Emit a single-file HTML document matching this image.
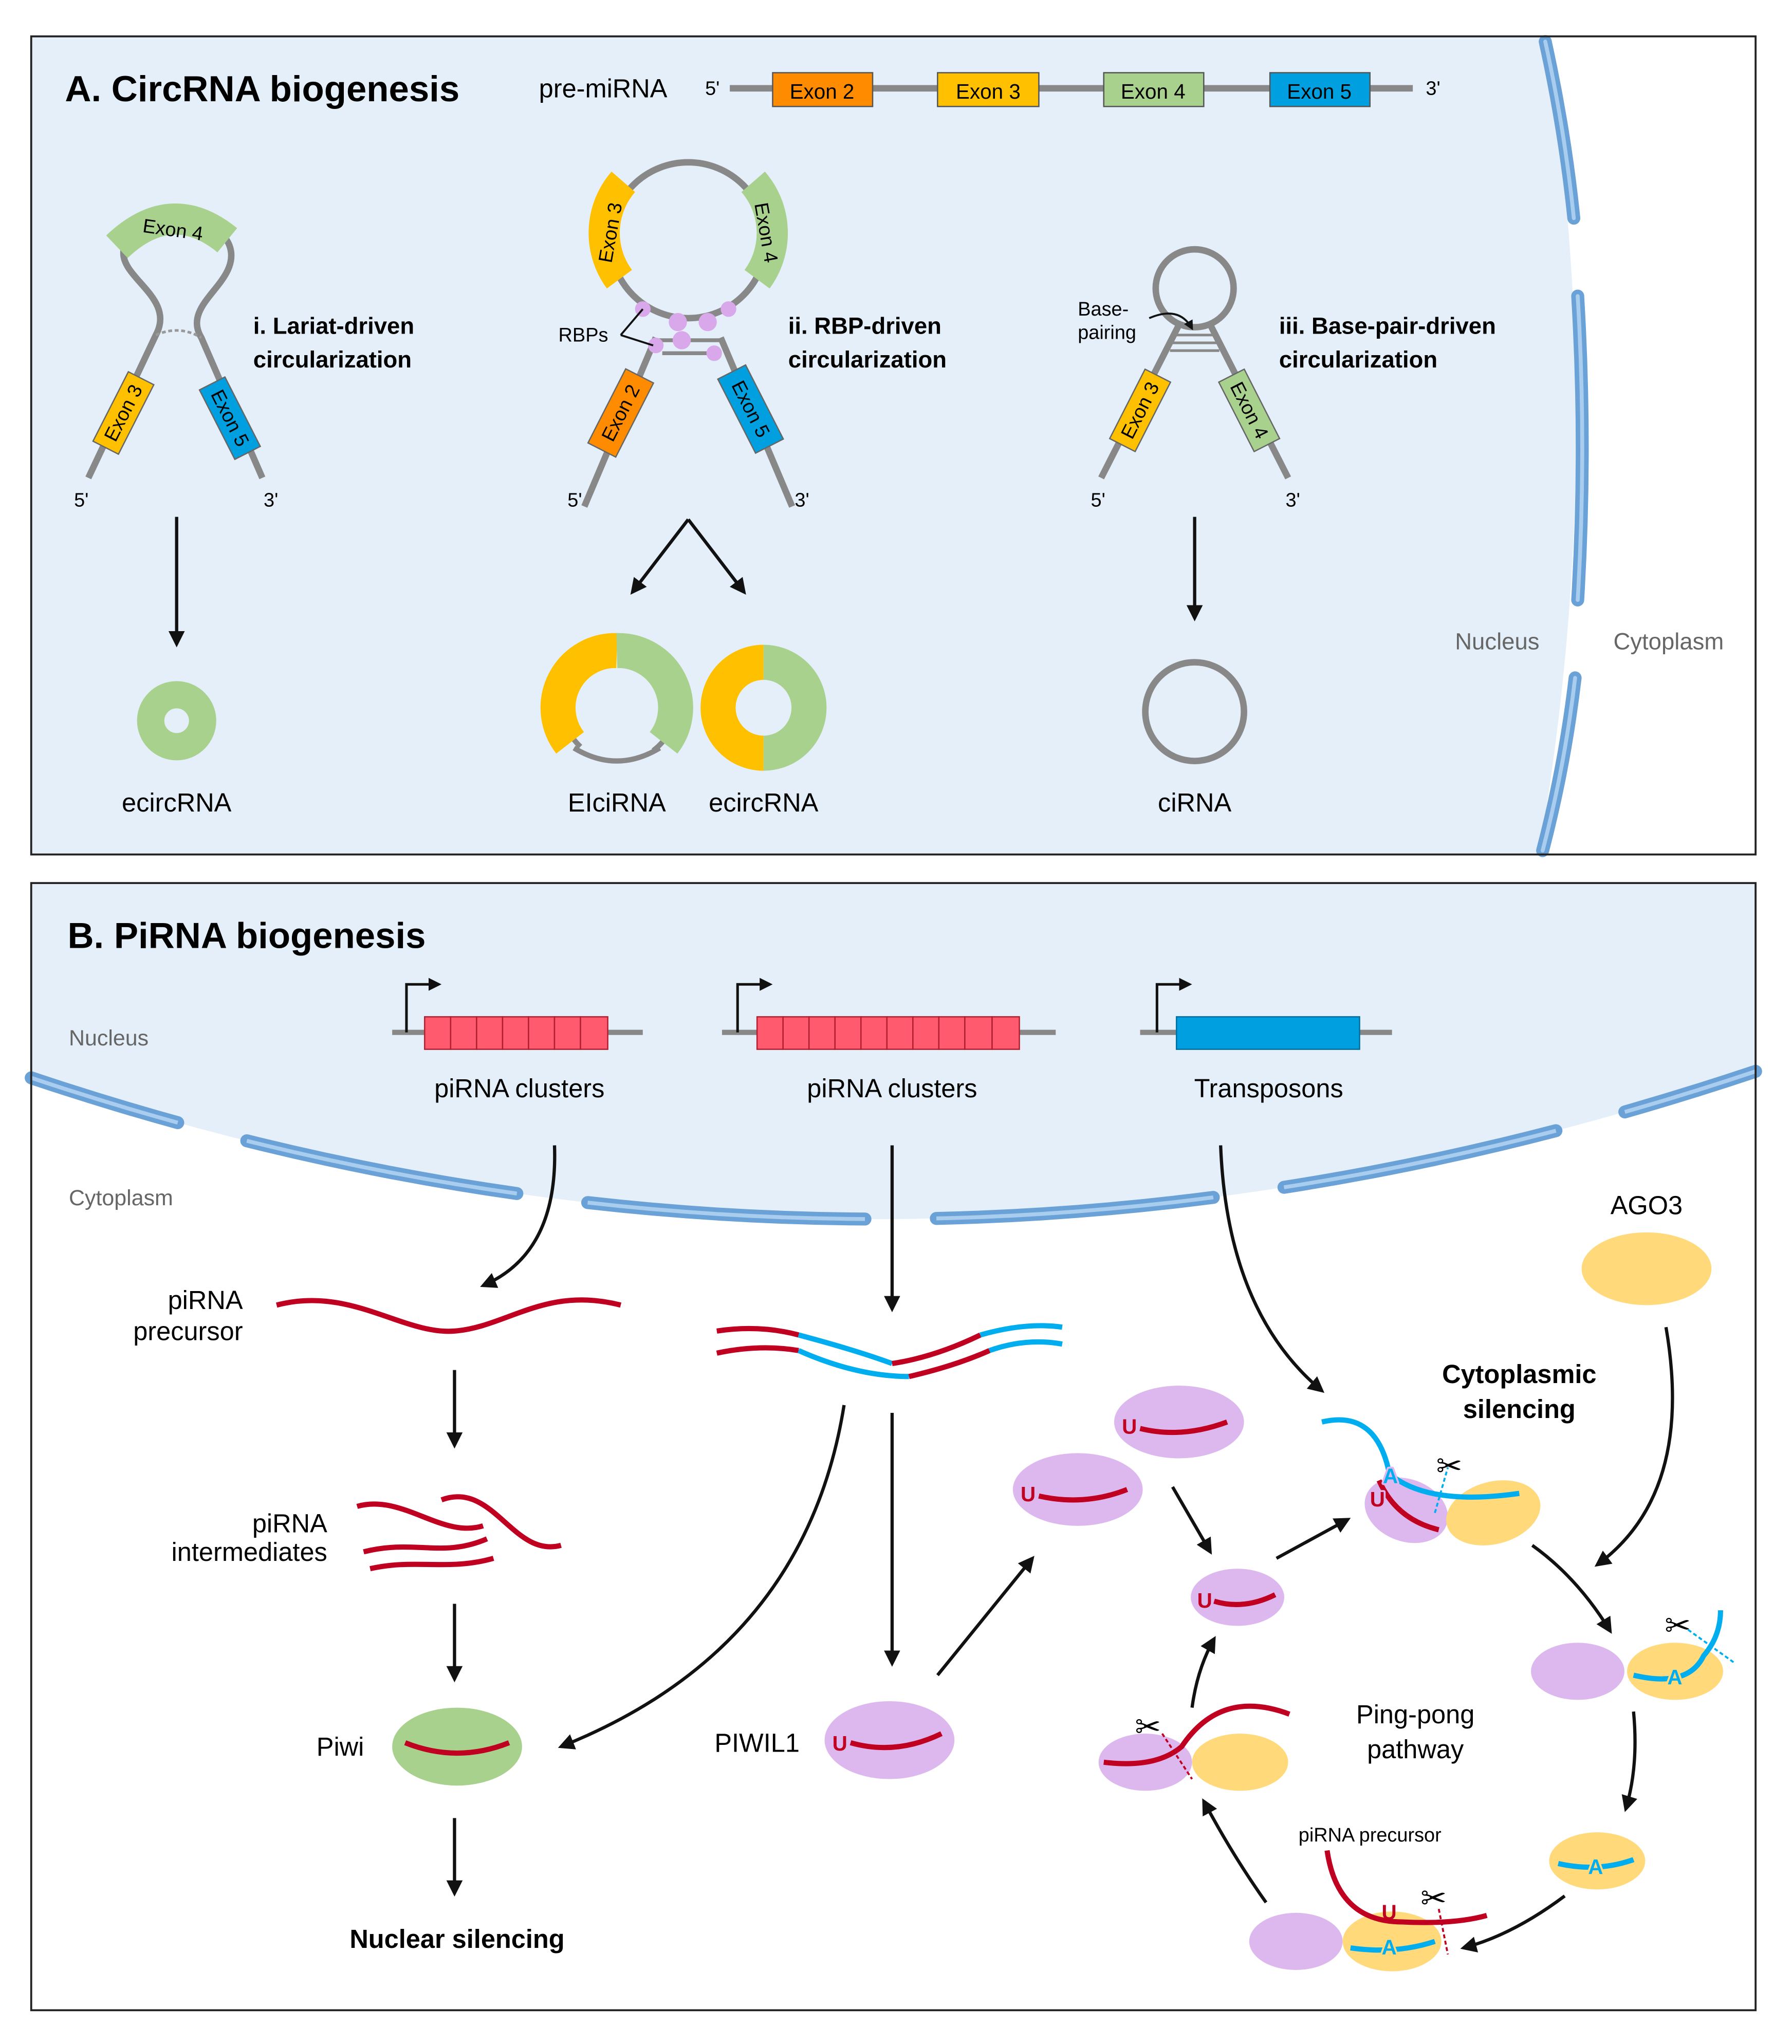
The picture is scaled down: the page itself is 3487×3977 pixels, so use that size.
<!DOCTYPE html>
<html><head><meta charset="utf-8"><style>html,body{margin:0;padding:0;background:#fff}svg{display:block}</style></head><body>
<svg width="3487" height="3977" viewBox="0 0 1380 1574" xmlns="http://www.w3.org/2000/svg" font-family="Liberation Sans, Arial, sans-serif">
<defs>
<marker id="ah" viewBox="0 0 10 10" refX="8" refY="5" markerWidth="5" markerHeight="5" orient="auto"><path d="M0,0 L10,5 L0,10 z" fill="#111"/></marker>
</defs>
<rect width="1380" height="1574" fill="#fff"/>
<!-- Panel A -->
<rect x="24" y="28" width="1328" height="630" fill="#fff"/>
<path d="M24,28 L1190,28 Q1240,340 1185,658 L24,658 Z" fill="#e4eff9"/>
<g stroke="#6aa2d8" stroke-width="10" stroke-linecap="round" fill="none">
<path d="M1190,32 Q1205,100 1212,168"/>
<path d="M1215,228 Q1222,345 1215,462"/>
<path d="M1213,522 Q1205,590 1188,655"/>
</g>
<g stroke="#a9cdee" stroke-width="3" stroke-linecap="round" fill="none">
<path d="M1190,32 Q1205,100 1212,168"/>
<path d="M1215,228 Q1222,345 1215,462"/>
<path d="M1213,522 Q1205,590 1188,655"/>
</g>
<rect x="24" y="28" width="1328" height="630" fill="none" stroke="#222" stroke-width="1.5"/>
<text x="50" y="78" font-size="28" font-weight="bold">A. CircRNA biogenesis</text>
<text x="415" y="75" font-size="20">pre-miRNA</text>
<text x="543" y="73" font-size="15">5'</text>
<line x1="562" y1="68" x2="1088" y2="68" stroke="#888" stroke-width="5"/>
<text x="1098" y="73" font-size="15">3'</text>
<g stroke="#555" stroke-width="1" font-size="16" text-anchor="middle">
<rect x="595" y="56" width="77" height="26" fill="#ff8c00"/><text x="633" y="76" stroke="none">Exon 2</text>
<rect x="722" y="56" width="78" height="26" fill="#ffc000"/><text x="761" y="76" stroke="none">Exon 3</text>
<rect x="850" y="56" width="77" height="26" fill="#a9d18e"/><text x="888" y="76" stroke="none">Exon 4</text>
<rect x="978" y="56" width="77" height="26" fill="#00a0e0"/><text x="1016" y="76" stroke="none">Exon 5</text>
</g>
<!-- i -->
<path d="M68,368 L120,258 C135,230 95,215 95,195 C95,160 175,160 178,195 C180,220 140,235 155,260 L202,368" fill="none" stroke="#888" stroke-width="5"/>
<path d="M120,258 Q138,250 155,260" fill="none" stroke="#999" stroke-width="2" stroke-dasharray="3 2"/>
<path d="M90,190 Q132,150 175,185" fill="none" stroke="#a9d18e" stroke-width="24"/>
<text x="133" y="182" font-size="15" text-anchor="middle" transform="rotate(8 133 178)">Exon 4</text>
<g transform="translate(95,318) rotate(-63)"><rect x="-30" y="-11" width="60" height="22" fill="#ffc000" stroke="#666"/><text x="0" y="5" font-size="15" text-anchor="middle">Exon 3</text></g>
<g transform="translate(177,322) rotate(63)"><rect x="-30" y="-11" width="60" height="22" fill="#00a0e0" stroke="#666"/><text x="0" y="5" font-size="15" text-anchor="middle">Exon 5</text></g>
<text x="195" y="257" font-size="18" font-weight="bold">i. Lariat-driven</text>
<text x="195" y="283" font-size="18" font-weight="bold">circularization</text>
<text x="57" y="390" font-size="15">5'</text><text x="203" y="390" font-size="15">3'</text>
<line x1="136" y1="398" x2="136" y2="496" stroke="#111" stroke-width="2.5" marker-end="url(#ah)"/>
<circle cx="136" cy="555" r="20" fill="none" stroke="#a9d18e" stroke-width="21"/>
<text x="136" y="625" font-size="20" text-anchor="middle">ecircRNA</text>
<!-- ii -->
<circle cx="530" cy="185" r="60" fill="none" stroke="#888" stroke-width="5"/>
<path d="M450,390 L505,260 M610,390 L555,260" stroke="#888" stroke-width="5"/>
<path d="M505,262 L555,262 M510,272 L550,272" stroke="#888" stroke-width="3"/>
<path d="M480,140 A60,60 0 0 0 477,215" fill="none" stroke="#ffc000" stroke-width="24"/>
<path d="M580,140 A60,60 0 0 1 583,215" fill="none" stroke="#a9d18e" stroke-width="24"/>
<text x="475" y="180" font-size="15" text-anchor="middle" transform="rotate(-80 475 180)">Exon 3</text>
<text x="585" y="180" font-size="15" text-anchor="middle" transform="rotate(80 585 180)">Exon 4</text>
<g transform="translate(478,318) rotate(-63)"><rect x="-32" y="-12" width="64" height="24" fill="#ff8c00" stroke="#666"/><text x="0" y="5" font-size="15" text-anchor="middle">Exon 2</text></g>
<g transform="translate(578,315) rotate(63)"><rect x="-32" y="-12" width="64" height="24" fill="#00a0e0" stroke="#666"/><text x="0" y="5" font-size="15" text-anchor="middle">Exon 5</text></g>
<g fill="#d8a8ea"><circle cx="495" cy="238" r="6"/><circle cx="522" cy="248" r="7"/><circle cx="545" cy="248" r="7"/><circle cx="561" cy="238" r="6"/><circle cx="505" cy="266" r="6"/><circle cx="525" cy="262" r="7"/><circle cx="550" cy="272" r="6"/></g>
<path d="M478,258 L495,238 M478,258 L503,266" stroke="#111" stroke-width="1.5" fill="none"/>
<text x="430" y="263" font-size="15">RBPs</text>
<text x="607" y="257" font-size="18" font-weight="bold">ii. RBP-driven</text>
<text x="607" y="283" font-size="18" font-weight="bold">circularization</text>
<text x="437" y="390" font-size="15">5'</text><text x="612" y="390" font-size="15">3'</text>
<line x1="530" y1="400" x2="573" y2="456" stroke="#111" stroke-width="2.5" marker-end="url(#ah)"/>
<line x1="530" y1="400" x2="487" y2="456" stroke="#111" stroke-width="2.5" marker-end="url(#ah)"/>
<path d="M447,575 A44,44 0 1 1 503,578" fill="none" stroke="#888" stroke-width="4"/>
<path d="M475,501 A44,44 0 0 0 439,572" fill="none" stroke="#ffc000" stroke-width="27"/>
<path d="M475,501 A44,44 0 0 1 511,572" fill="none" stroke="#a9d18e" stroke-width="27"/>
<path d="M442,576 Q475,596 508,576" fill="none" stroke="#888" stroke-width="4"/>
<path d="M588,510 A35,35 0 0 0 588,580" fill="none" stroke="#ffc000" stroke-width="27"/>
<path d="M588,510 A35,35 0 0 1 588,580" fill="none" stroke="#a9d18e" stroke-width="27"/>
<text x="475" y="625" font-size="20" text-anchor="middle">EIciRNA</text>
<text x="588" y="625" font-size="20" text-anchor="middle">ecircRNA</text>
<!-- iii -->
<circle cx="920" cy="222" r="30" fill="none" stroke="#888" stroke-width="5"/>
<path d="M908,250 L848,368 M932,250 L992,368" stroke="#888" stroke-width="5"/>
<path d="M905,258 L935,258 M903,264 L937,264 M901,270 L939,270" stroke="#888" stroke-width="2"/>
<g transform="translate(878,316) rotate(-63)"><rect x="-30" y="-11" width="60" height="22" fill="#ffc000" stroke="#666"/><text x="0" y="5" font-size="15" text-anchor="middle">Exon 3</text></g>
<g transform="translate(962,316) rotate(63)"><rect x="-30" y="-11" width="60" height="22" fill="#a9d18e" stroke="#666"/><text x="0" y="5" font-size="15" text-anchor="middle">Exon 4</text></g>
<text x="830" y="243" font-size="15">Base-</text><text x="830" y="261" font-size="15">pairing</text>
<path d="M885,245 Q908,235 918,253" fill="none" stroke="#111" stroke-width="1.5" marker-end="url(#ah)"/>
<text x="985" y="257" font-size="18" font-weight="bold">iii. Base-pair-driven</text>
<text x="985" y="283" font-size="18" font-weight="bold">circularization</text>
<text x="840" y="390" font-size="15">5'</text><text x="990" y="390" font-size="15">3'</text>
<line x1="920" y1="398" x2="920" y2="476" stroke="#111" stroke-width="2.5" marker-end="url(#ah)"/>
<circle cx="920" cy="548" r="38" fill="none" stroke="#888" stroke-width="5"/>
<text x="920" y="625" font-size="20" text-anchor="middle">ciRNA</text>
<text x="1153" y="500" font-size="18" fill="#666" text-anchor="middle">Nucleus</text>
<text x="1285" y="500" font-size="18" fill="#666" text-anchor="middle">Cytoplasm</text>

<!-- Panel B -->
<rect x="24" y="680" width="1328" height="868" fill="#fff"/>
<path d="M24,680 L1352,680 L1352,825 Q680,1050 24,830 Z" fill="#e4eff9"/>
<path d="M24,830 Q680,1050 1352,825" fill="none" stroke="#6aa2d8" stroke-width="10" stroke-linecap="round" stroke-dasharray="118 55 212 55 214 55 214 55 214 55 200"/>
<path d="M24,830 Q680,1050 1352,825" fill="none" stroke="#a9cdee" stroke-width="3" stroke-dasharray="118 55 212 55 214 55 214 55 214 55 200"/>
<rect x="24" y="680" width="1328" height="868" fill="none" stroke="#222" stroke-width="1.5"/>
<text x="52" y="730" font-size="28" font-weight="bold">B. PiRNA biogenesis</text>
<text x="53" y="805" font-size="17" fill="#666">Nucleus</text>
<text x="53" y="928" font-size="17" fill="#666">Cytoplasm</text>
<!-- genes -->
<g stroke="#888" stroke-width="4"><line x1="302" y1="795" x2="495" y2="795"/><line x1="556" y1="795" x2="813" y2="795"/><line x1="878" y1="795" x2="1072" y2="795"/></g>
<g fill="#ff5a6e" stroke="#b02030" stroke-width="1">
<rect x="327" y="783" width="20" height="25"/><rect x="347" y="783" width="20" height="25"/><rect x="367" y="783" width="20" height="25"/><rect x="387" y="783" width="20" height="25"/><rect x="407" y="783" width="20" height="25"/><rect x="427" y="783" width="20" height="25"/><rect x="447" y="783" width="21" height="25"/>
<rect x="583" y="783" width="20" height="25"/><rect x="603" y="783" width="20" height="25"/><rect x="623" y="783" width="20" height="25"/><rect x="643" y="783" width="20" height="25"/><rect x="663" y="783" width="20" height="25"/><rect x="683" y="783" width="20" height="25"/><rect x="703" y="783" width="20" height="25"/><rect x="723" y="783" width="20" height="25"/><rect x="743" y="783" width="21" height="25"/><rect x="764" y="783" width="21" height="25"/>
</g>
<rect x="906" y="783" width="141" height="25" fill="#00a0e0" stroke="#0070a0"/>
<g stroke="#111" stroke-width="2" fill="none" marker-end="url(#ah)">
<path d="M313,795 L313,758 L338,758"/><path d="M568,795 L568,758 L593,758"/><path d="M891,795 L891,758 L916,758"/>
</g>
<text x="400" y="845" font-size="20" text-anchor="middle">piRNA clusters</text>
<text x="687" y="845" font-size="20" text-anchor="middle">piRNA clusters</text>
<text x="977" y="845" font-size="20" text-anchor="middle">Transposons</text>
<g stroke="#111" stroke-width="2.5" fill="none" marker-end="url(#ah)">
<path d="M427,882 Q430,965 372,990"/>
<line x1="350" y1="1055" x2="350" y2="1113"/>
<line x1="350" y1="1235" x2="350" y2="1293"/>
<line x1="350" y1="1400" x2="350" y2="1458"/>
<line x1="687" y1="882" x2="687" y2="1008"/>
<path d="M650,1082 Q620,1270 432,1345"/>
<line x1="687" y1="1088" x2="687" y2="1281"/>
<line x1="722" y1="1290" x2="795" y2="1200"/>
<path d="M940,882 Q945,1010 1018,1071"/>
<path d="M1283,1022 Q1305,1150 1230,1205"/>
<line x1="903" y1="1145" x2="932" y2="1195"/>
<line x1="983" y1="1200" x2="1038" y2="1170"/>
<path d="M1180,1190 Q1215,1215 1240,1256"/>
<path d="M1258,1318 Q1262,1360 1252,1393"/>
<path d="M1205,1460 Q1165,1490 1127,1500"/>
<path d="M975,1465 Q950,1430 927,1387"/>
<path d="M918,1315 Q922,1285 935,1262"/>
</g>
<text x="187" y="1008" font-size="20" text-anchor="end">piRNA</text>
<text x="187" y="1032" font-size="20" text-anchor="end">precursor</text>
<path d="M213,1005 C270,990 310,1028 350,1025 C390,1022 420,990 478,1005" fill="none" stroke="#c00020" stroke-width="4"/>
<text x="252" y="1180" font-size="20" text-anchor="end">piRNA</text>
<text x="252" y="1202" font-size="20" text-anchor="end">intermediates</text>
<g fill="none" stroke="#c00020" stroke-width="4">
<path d="M275,1160 C310,1150 340,1185 372,1175"/>
<path d="M340,1155 C380,1140 395,1200 432,1190"/>
<path d="M280,1195 C320,1185 340,1200 375,1185"/>
<path d="M285,1208 C320,1200 345,1210 380,1200"/>
</g>
<text x="262" y="1352" font-size="20" text-anchor="middle">Piwi</text>
<ellipse cx="352" cy="1345" rx="50" ry="30" fill="#a9d18e"/>
<path d="M312,1342 Q352,1358 392,1342" fill="none" stroke="#c00020" stroke-width="4"/>
<text x="352" y="1500" font-size="20" font-weight="bold" text-anchor="middle">Nuclear silencing</text>
<g fill="none" stroke-width="4">
<path d="M552,1025 Q585,1020 615,1028" stroke="#c00020"/><path d="M615,1028 Q660,1040 687,1050" stroke="#00aeef"/>
<path d="M552,1042 Q585,1035 615,1040" stroke="#c00020"/><path d="M615,1040 Q660,1060 700,1060" stroke="#00aeef"/><path d="M700,1060 Q735,1052 762,1040" stroke="#c00020"/><path d="M762,1040 Q790,1030 818,1035" stroke="#00aeef"/>
<path d="M687,1050 Q720,1045 755,1028" stroke="#c00020"/>
<path d="M755,1028 Q790,1018 818,1022" stroke="#00aeef"/>
</g>
<text x="583" y="1349" font-size="20" text-anchor="middle">PIWIL1</text>
<g font-size="16" font-weight="bold" fill="#c00020">
<ellipse cx="685" cy="1340" rx="50" ry="30" fill="#ddb8ef"/>
<path d="M655,1342 Q690,1352 725,1335" fill="none" stroke="#c00020" stroke-width="4"/><text x="641" y="1348">U</text>
<ellipse cx="908" cy="1095" rx="50" ry="28" fill="#ddb8ef"/>
<path d="M878,1100 Q910,1108 945,1095" fill="none" stroke="#c00020" stroke-width="4"/><text x="864" y="1104">U</text>
<ellipse cx="830" cy="1147" rx="50" ry="28" fill="#ddb8ef"/>
<path d="M800,1152 Q835,1160 868,1147" fill="none" stroke="#c00020" stroke-width="4"/><text x="786" y="1156">U</text>
<ellipse cx="953" cy="1230" rx="36" ry="22" fill="#ddb8ef"/>
<path d="M935,1233 Q958,1240 982,1228" fill="none" stroke="#c00020" stroke-width="4"/><text x="922" y="1238">U</text>
</g>
<text x="1268" y="935" font-size="20" text-anchor="middle">AGO3</text>
<ellipse cx="1268" cy="977" rx="50" ry="28" fill="#ffd97a"/>
<text x="1170" y="1065" font-size="20" font-weight="bold" text-anchor="middle">Cytoplasmic</text>
<text x="1170" y="1092" font-size="20" font-weight="bold" text-anchor="middle">silencing</text>
<ellipse cx="1083" cy="1163" rx="33" ry="24" fill="#ddb8ef" transform="rotate(20 1083 1163)"/>
<ellipse cx="1150" cy="1165" rx="37" ry="24" fill="#ffd97a" transform="rotate(-15 1150 1165)"/>
<path d="M1018,1095 Q1060,1085 1070,1135 Q1100,1160 1170,1150" fill="none" stroke="#00aeef" stroke-width="4"/>
<path d="M1062,1140 Q1075,1170 1108,1178" fill="none" stroke="#c00020" stroke-width="4"/>
<g font-size="16" font-weight="bold" stroke-width="3" paint-order="stroke" stroke-linejoin="round">
<text x="1055" y="1160" fill="#c00020" stroke="#ddb8ef">U</text>
<text x="1065" y="1142" fill="#00aeef" stroke="#ddb8ef">A</text>
</g>
<line x1="1105" y1="1165" x2="1115" y2="1130" stroke="#00aeef" stroke-width="1.5" stroke-dasharray="3 2"/>
<text x="1106" y="1137" font-size="24">✂</text>
<ellipse cx="1215" cy="1287" rx="36" ry="22" fill="#ddb8ef"/>
<ellipse cx="1290" cy="1287" rx="37" ry="22" fill="#ffd97a"/>
<path d="M1258,1290 Q1300,1300 1312,1275 Q1325,1260 1325,1240" fill="none" stroke="#00aeef" stroke-width="4"/>
<text x="1284" y="1297" font-size="16" font-weight="bold" fill="#00aeef" stroke="#ffd97a" stroke-width="3" paint-order="stroke">A</text>
<line x1="1300" y1="1255" x2="1335" y2="1280" stroke="#00aeef" stroke-width="1.5" stroke-dasharray="3 2"/>
<text x="1282" y="1260" font-size="24">✂</text>
<ellipse cx="1230" cy="1433" rx="37" ry="22" fill="#ffd97a"/>
<path d="M1200,1435 Q1230,1442 1258,1432" fill="none" stroke="#00aeef" stroke-width="4"/>
<text x="1223" y="1443" font-size="16" font-weight="bold" fill="#00aeef" stroke="#ffd97a" stroke-width="3" paint-order="stroke">A</text>
<ellipse cx="998" cy="1495" rx="36" ry="22" fill="#ddb8ef"/>
<ellipse cx="1072" cy="1495" rx="38" ry="23" fill="#ffd97a"/>
<path d="M1022,1425 Q1030,1480 1080,1480 Q1120,1482 1145,1475" fill="none" stroke="#c00020" stroke-width="4"/>
<path d="M1040,1500 Q1075,1505 1105,1495" fill="none" stroke="#00aeef" stroke-width="4"/>
<text x="1064" y="1505" font-size="16" font-weight="bold" fill="#00aeef" stroke="#ffd97a" stroke-width="3" paint-order="stroke">A</text>
<text x="1064" y="1478" font-size="16" font-weight="bold" fill="#c00020">U</text>
<text x="1055" y="1418" font-size="15" text-anchor="middle">piRNA precursor</text>
<line x1="1108" y1="1470" x2="1115" y2="1505" stroke="#c00020" stroke-width="1.5" stroke-dasharray="3 2"/>
<text x="1094" y="1470" font-size="24">✂</text>
<ellipse cx="882" cy="1357" rx="36" ry="22" fill="#ddb8ef"/>
<ellipse cx="955" cy="1357" rx="37" ry="22" fill="#ffd97a"/>
<path d="M850,1357 Q890,1362 910,1345 Q940,1300 993,1320" fill="none" stroke="#c00020" stroke-width="4"/>
<line x1="895" y1="1335" x2="918" y2="1370" stroke="#c00020" stroke-width="1.5" stroke-dasharray="3 2"/>
<text x="874" y="1338" font-size="24">✂</text>
<text x="1090" y="1327" font-size="20" text-anchor="middle">Ping-pong</text>
<text x="1090" y="1354" font-size="20" text-anchor="middle">pathway</text>
</svg>
</body></html>
